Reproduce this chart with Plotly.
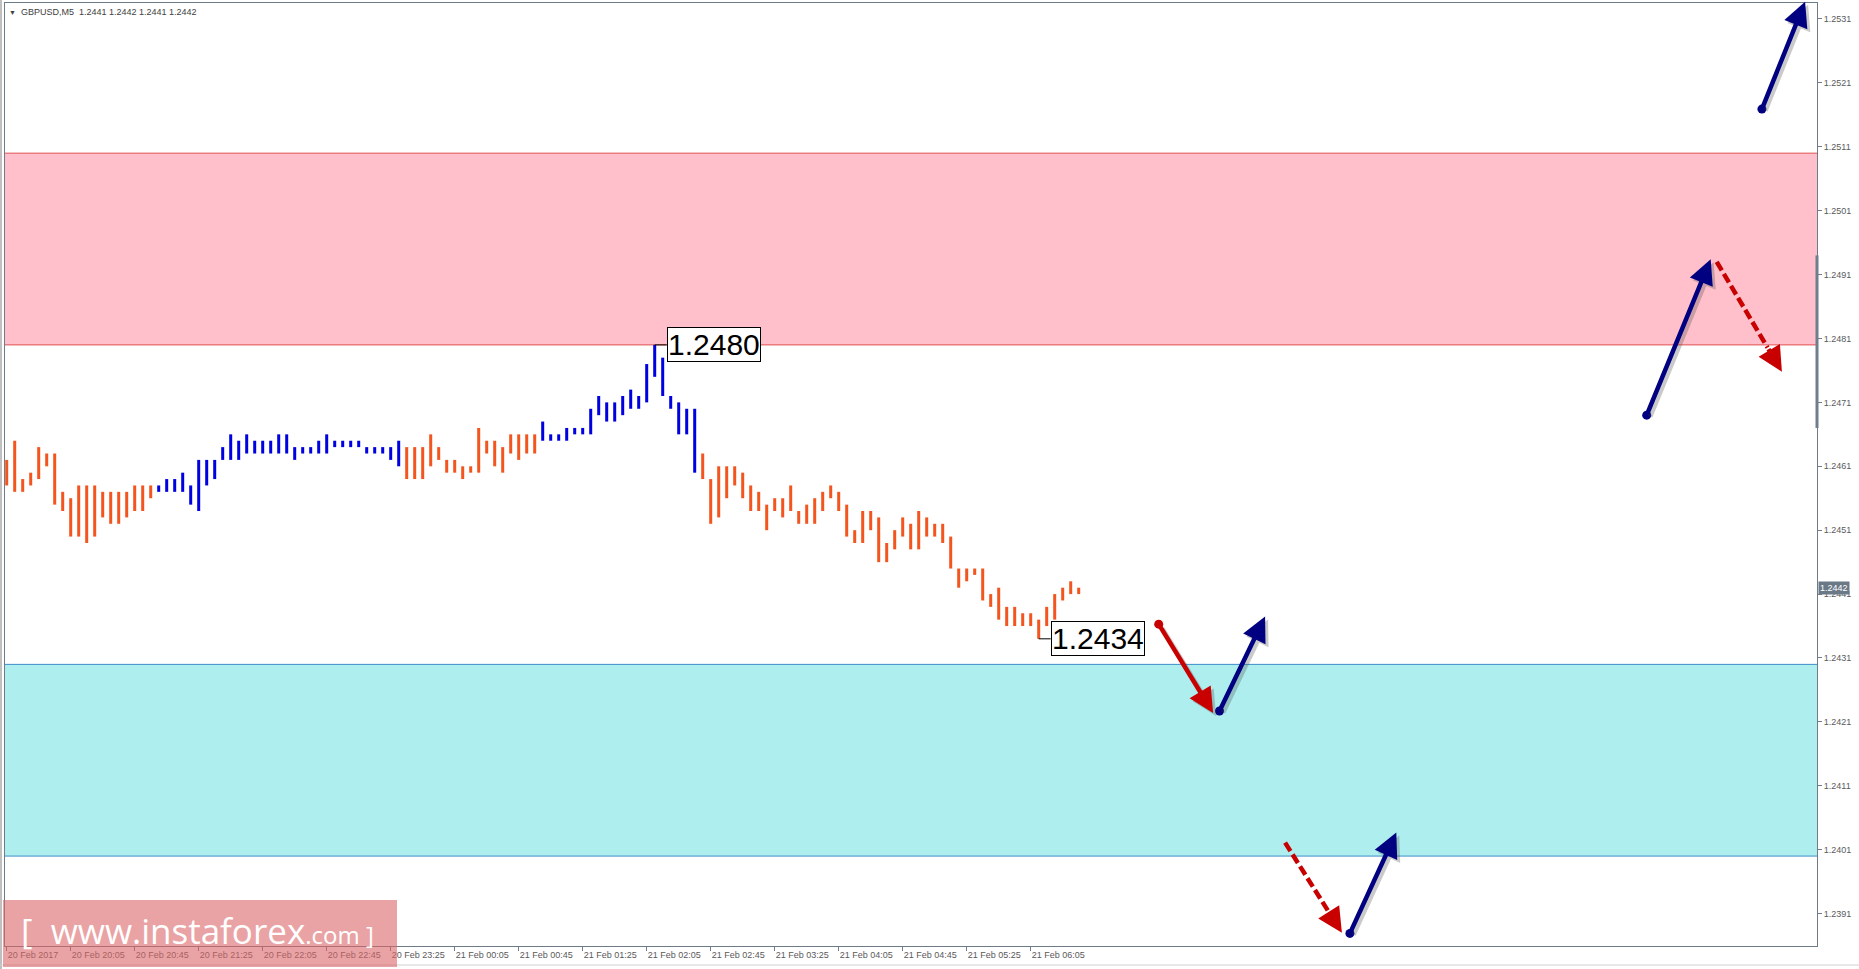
import plotly.graph_objects as go

# GBPUSD M5, one entry per 5-minute bar starting 20 Feb 2017 19:25
bar_high = [
    1.2462, 1.2465, 1.2459, 1.2460, 1.2464, 1.2463, 1.2463, 1.2457, 1.2456, 1.2458,
    1.2458, 1.2458, 1.2457, 1.2457, 1.2457, 1.2457, 1.2458, 1.2458, 1.2458, 1.2458,
    1.2459, 1.2459, 1.2460, 1.2458, 1.2462, 1.2462, 1.2462, 1.2464, 1.2466, 1.2465,
    1.2466, 1.2465, 1.2465, 1.2465, 1.2466, 1.2466, 1.2464, 1.2464, 1.2464, 1.2465,
    1.2466, 1.2465, 1.2465, 1.2465, 1.2465, 1.2464, 1.2464, 1.2464, 1.2464, 1.2465,
    1.2464, 1.2464, 1.2464, 1.2466, 1.2464, 1.2462, 1.2462, 1.2461, 1.2461, 1.2467,
    1.2465, 1.2465, 1.2464, 1.2466, 1.2466, 1.2466, 1.2466, 1.2468, 1.2466, 1.2466,
    1.2467, 1.2467, 1.2467, 1.2470, 1.2472, 1.2471, 1.2471, 1.2472, 1.2473, 1.2472,
    1.2477, 1.2480, 1.2478, 1.2472, 1.2471, 1.2470, 1.2470, 1.2463, 1.2459, 1.2461,
    1.2461, 1.2461, 1.2460, 1.2458, 1.2457, 1.2455, 1.2456, 1.2456, 1.2458, 1.2454,
    1.2455, 1.2456, 1.2457, 1.2458, 1.2457, 1.2455, 1.2451, 1.2454, 1.2454, 1.2453,
    1.2449, 1.2451, 1.2453, 1.2452, 1.2454, 1.2453, 1.2452, 1.2452, 1.2450, 1.2445,
    1.2445, 1.2445, 1.2445, 1.2441, 1.2442, 1.2439, 1.2439, 1.2438, 1.2438, 1.2437,
    1.2439, 1.2441, 1.2442, 1.2443, 1.2442,
]
bar_low = [
    1.2458, 1.2457, 1.2457, 1.2458, 1.2459, 1.2461, 1.2455, 1.2454, 1.2450, 1.2450,
    1.2449, 1.2450, 1.2453, 1.2452, 1.2452, 1.2453, 1.2454, 1.2454, 1.2456, 1.2457,
    1.2457, 1.2457, 1.2457, 1.2455, 1.2454, 1.2458, 1.2459, 1.2462, 1.2462, 1.2462,
    1.2463, 1.2463, 1.2463, 1.2463, 1.2463, 1.2463, 1.2462, 1.2463, 1.2463, 1.2463,
    1.2463, 1.2464, 1.2464, 1.2464, 1.2464, 1.2463, 1.2463, 1.2463, 1.2462, 1.2461,
    1.2459, 1.2459, 1.2459, 1.2461, 1.2462, 1.2460, 1.2460, 1.2459, 1.2460, 1.2460,
    1.2463, 1.2461, 1.2460, 1.2463, 1.2462, 1.2463, 1.2463, 1.2465, 1.2465, 1.2465,
    1.2465, 1.2466, 1.2466, 1.2466, 1.2469, 1.2468, 1.2468, 1.2469, 1.2470, 1.2470,
    1.2471, 1.2475, 1.2472, 1.2470, 1.2466, 1.2466, 1.2460, 1.2459, 1.2452, 1.2453,
    1.2456, 1.2458, 1.2456, 1.2454, 1.2454, 1.2451, 1.2454, 1.2453, 1.2454, 1.2452,
    1.2452, 1.2452, 1.2454, 1.2456, 1.2454, 1.2450, 1.2449, 1.2449, 1.2451, 1.2446,
    1.2446, 1.2448, 1.2450, 1.2448, 1.2448, 1.2450, 1.2450, 1.2449, 1.2445, 1.2442,
    1.2443, 1.2444, 1.2440, 1.2439, 1.2437, 1.2436, 1.2436, 1.2436, 1.2436, 1.2434,
    1.2436, 1.2437, 1.2440, 1.2441, 1.2441,
]

# first bar of each coloured leg (legs alternate orange / blue)
leg_starts = [0, 19, 50, 67, 87]

time_labels = [
    "20 Feb 2017", "20 Feb 20:05", "20 Feb 20:45", "20 Feb 21:25", "20 Feb 22:05",
    "20 Feb 22:45", "20 Feb 23:25", "21 Feb 00:05", "21 Feb 00:45", "21 Feb 01:25",
    "21 Feb 02:05", "21 Feb 02:45", "21 Feb 03:25", "21 Feb 04:05", "21 Feb 04:45",
    "21 Feb 05:25", "21 Feb 06:05",
]
bars_per_label = 8

price_ticks = [
    1.2391, 1.2401, 1.2411, 1.2421, 1.2431, 1.2441, 1.2451, 1.2461,
    1.2471, 1.2481, 1.2491, 1.2501, 1.2511, 1.2521, 1.2531,
]

resistance_zone = [1.2480, 1.2510]
support_zone = [1.2400, 1.2430]

header_ohlc = [1.2441, 1.2442, 1.2441, 1.2442]
last_price = 1.2442
scroll_marker = [1.2467, 1.2494]

# forecast arrows (bar position, price) from start to tip
arrow_x0 = [219.4, 205.0, 213.75, 144.0, 151.6, 159.8, 167.9]
arrow_y0 = [1.25169, 1.24690, 1.24930, 1.24363, 1.24227, 1.24021, 1.23879]
arrow_x1 = [224.8, 213.0, 221.9, 150.8, 157.3, 166.9, 173.7]
arrow_y1 = [1.25337, 1.24934, 1.24758, 1.24224, 1.24375, 1.23880, 1.24037]
arrow_kind = ["up", "up", "down_dash", "down", "up", "down_dash", "up"]

ORANGE = "#F2551F"
BLUE = "#0000E1"
NAVY = "#000080"
DARKRED = "#C80000"
AXIS = "#6E7B88"
TEXT = "#5A5A5A"
SMALL_FONT = "Liberation Sans, Arial, sans-serif"

W, H = 1859, 969
M = dict(l=5, r=42, t=3, b=23, pad=0)
PW = W - M["l"] - M["r"]
PH = H - M["t"] - M["b"]


def paper_x(px):
    return (px - M["l"]) / PW


def paper_y(py):
    return (H - M["b"] - py) / PH


fig = go.Figure()

# bars, one trace per leg colour
ends = leg_starts[1:] + [len(bar_high)]
for k, (s, e) in enumerate(zip(leg_starts, ends)):
    xs, ys = [], []
    for i in range(s, e):
        xs += [i, i, None]
        ys += [bar_low[i], bar_high[i], None]
    fig.add_trace(go.Scatter(
        x=xs, y=ys, mode="lines",
        line=dict(color=ORANGE if k % 2 == 0 else BLUE, width=3),
        hoverinfo="skip",
    ))

# zones
for zone, fill, edge in [(resistance_zone, "#FFC0CB", "#E05050"),
                         (support_zone, "#AFEEEE", "#3C8DC8")]:
    fig.add_shape(type="rect", xref="paper", yref="y", x0=0, x1=1,
                  y0=zone[0], y1=zone[1], fillcolor=fill, line_width=0,
                  layer="below")
    for v in zone:
        fig.add_shape(type="line", xref="paper", yref="y", x0=0, x1=1,
                      y0=v, y1=v, line=dict(color=edge, width=1),
                      layer="below")

# swing labels
hi_i = max(range(len(bar_high)), key=lambda i: bar_high[i])
lo_i = min(range(len(bar_low)), key=lambda i: bar_low[i])
for i, p in [(hi_i, bar_high[hi_i]), (lo_i, bar_low[lo_i])]:
    fig.add_shape(type="line", xref="x", yref="y", x0=i, x1=i + 1.5,
                  y0=p, y1=p, line=dict(color="black", width=1))
    fig.add_annotation(x=i, y=p, xref="x", yref="y", text=f"{p:.4f}",
                       showarrow=False, xanchor="left", yanchor="middle",
                       xshift=12, bgcolor="white", bordercolor="black",
                       borderwidth=1, borderpad=0,
                       font=dict(family="Liberation Sans, Arial", size=30,
                                 color="black"))

# arrows
for x0, y0, x1, y1, kind in zip(arrow_x0, arrow_y0, arrow_x1, arrow_y1, arrow_kind):
    color = NAVY if kind == "up" else DARKRED
    if kind == "down_dash":
        f = 0.78
        hx, hy = x0 + f * (x1 - x0), y0 + f * (y1 - y0)
        fig.add_trace(go.Scatter(
            x=[x0, hx], y=[y0, hy], mode="lines",
            line=dict(color=color, width=4.5, dash="10px,4px"),
            hoverinfo="skip",
        ))
    else:
        hx, hy = x0, y0
        fig.add_trace(go.Scatter(
            x=[x0], y=[y0], mode="markers",
            marker=dict(color=color, size=9), hoverinfo="skip",
        ))
        fig.add_annotation(x=x1, y=y1, ax=hx, ay=hy, xref="x", yref="y",
                           axref="x", ayref="y", text="", showarrow=True,
                           arrowhead=2, arrowsize=1.1, arrowwidth=4.5,
                           arrowcolor="rgba(70,70,70,0.28)", standoff=0,
                           xshift=3, yshift=-3)
    fig.add_annotation(x=x1, y=y1, ax=hx, ay=hy, xref="x", yref="y",
                       axref="x", ayref="y", text="", showarrow=True,
                       arrowhead=2, arrowsize=1.1, arrowwidth=4.5,
                       arrowcolor=color, standoff=0)

# header
fig.add_annotation(
    xref="paper", yref="paper", x=paper_x(7), y=paper_y(12),
    xanchor="left", yanchor="middle", showarrow=False,
    text="<span style='font-size:7px'>▼</span>  GBPUSD,M5  "
         + " ".join(f"{v:.4f}" for v in header_ohlc),
    font=dict(family=SMALL_FONT, size=9, color="#404040"),
)

# current price tag on the axis
fig.add_annotation(
    xref="paper", yref="y", x=1, y=last_price, xanchor="left",
    yanchor="middle", xshift=1, showarrow=False, text=f"{last_price:.4f}",
    bgcolor="#6B7886", borderpad=1,
    font=dict(family=SMALL_FONT, size=9, color="white"),
)
fig.add_shape(type="line", xref="paper", yref="y", x0=1, x1=1,
              y0=scroll_marker[0], y1=scroll_marker[1],
              line=dict(color="#6F7D8C", width=3))

# window frame
fig.add_shape(type="line", xref="paper", yref="paper", x0=paper_x(1),
              x1=paper_x(1), y0=paper_y(0), y1=paper_y(H),
              line=dict(color="#808080", width=1))
fig.add_shape(type="line", xref="paper", yref="paper", x0=paper_x(0),
              x1=paper_x(W), y0=paper_y(965), y1=paper_y(965),
              line=dict(color="#D0D0D0", width=1))

# watermark
fig.add_shape(type="rect", xref="paper", yref="paper",
              x0=paper_x(3), x1=paper_x(397), y0=paper_y(967), y1=paper_y(900),
              fillcolor="rgba(218,102,103,0.6)", line_width=0, layer="above")
fig.add_annotation(
    xref="paper", yref="paper", x=paper_x(19), y=paper_y(930),
    xanchor="left", yanchor="middle", showarrow=False,
    text="[  www.instaforex<span style='font-size:24px'>.com ]</span>",
    font=dict(family="Open Sans, sans-serif", size=35, color="white"),
)

fig.update_layout(
    width=W, height=H, margin=M,
    paper_bgcolor="white", plot_bgcolor="rgba(0,0,0,0)",
    showlegend=False, hovermode=False,
    xaxis=dict(
        range=[-0.2125, -0.2125 + PW / 8], automargin=False,
        tickvals=[i * bars_per_label for i in range(len(time_labels))],
        ticktext=time_labels,
        ticklabelposition="outside right",
        ticks="outside", ticklen=4, tickcolor=AXIS,
        showline=True, linecolor=AXIS, linewidth=1, mirror=True,
        showgrid=False, zeroline=False,
        tickfont=dict(family=SMALL_FONT, size=9, color=TEXT),
    ),
    yaxis=dict(
        range=[1.238593, 1.25335], side="right", automargin=False,
        tickvals=price_ticks, tickformat=".4f",
        ticks="outside", ticklen=4, tickcolor=AXIS,
        showline=True, linecolor=AXIS, linewidth=1, mirror=True,
        showgrid=False, zeroline=False,
        tickfont=dict(family=SMALL_FONT, size=9, color=TEXT),
    ),
)

# the page body has a default margin; remove it so the chart fills the window
fig.write_html(
    "out.html",
    config={"displayModeBar": False},
    post_script="document.body.style.margin='0';document.body.style.overflow='hidden';",
)
